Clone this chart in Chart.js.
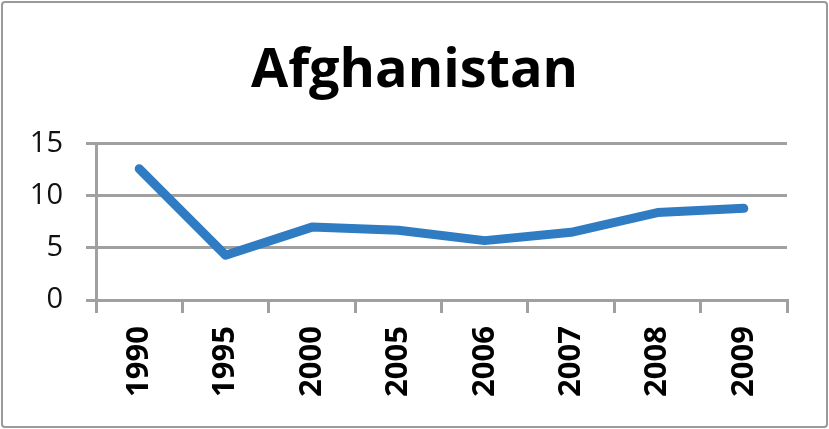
<!DOCTYPE html>
<html>
<head>
<meta charset="utf-8">
<script src="https://cdn.jsdelivr.net/npm/chart.js@4"></script>
<style>
    html, body { margin: 0; padding: 0; background: #fff; }
    #wrap {
        position: relative;
        width: 823px; height: 423px;
        margin: 1px;
        border: 2px solid #9a9a9a;
        border-radius: 4px;
    }
    canvas { position: absolute; left: -3px; top: -3px; }
</style>
</head>
<body>
<div id="wrap"><canvas id="chart" width="829" height="429"></canvas></div>
<script>
const years = ['1990', '1995', '2000', '2005', '2006', '2007', '2008', '2009'];
const values = [12.6, 4.3, 7.0, 6.7, 5.7, 6.5, 8.4, 8.8];
const yTicks = [0, 5, 10, 15];

const gridGray = '#a0a0a0';

new Chart(document.getElementById('chart'), {
    type: 'line',
    data: {
        labels: years,
        datasets: [{
            label: 'Afghanistan',
            data: values,
            borderColor: '#2f7cc3',
            borderWidth: 9,
            borderCapStyle: 'round',
            borderJoinStyle: 'round',
            pointRadius: 0,
            tension: 0,
            fill: false
        }]
    },
    options: {
        responsive: false,
        animation: false,
        layout: {
            padding: { left: 28, right: 28, top: 39, bottom: 21 }
        },
        plugins: {
            legend: { display: false },
            tooltip: { enabled: false },
            title: {
                display: true,
                text: 'Afghanistan',
                color: '#000',
                font: { family: 'Open Sans', size: 54, weight: 'bold' },
                padding: { top: 0, bottom: 40 }
            }
        },
        scales: {
            x: {
                offset: true,
                afterFit: function(axis) { axis.height = 108; },
                grid: {
                    offset: true,
                    drawOnChartArea: false,
                    drawTicks: true,
                    tickLength: 13,
                    color: gridGray,
                    lineWidth: 3
                },
                border: { display: true, color: gridGray, width: 3 },
                ticks: {
                    minRotation: 90,
                    maxRotation: 90,
                    padding: 13,
                    color: '#000',
                    font: { family: 'Open Sans', size: 31, weight: 'bold' }
                }
            },
            y: {
                min: 0,
                max: 15,
                afterFit: function(axis) { axis.width = 68; },
                afterBuildTicks: function(axis) {
                    axis.ticks = yTicks.map(v => ({ value: v }));
                },
                grid: {
                    drawTicks: true,
                    tickLength: 10,
                    color: gridGray,
                    lineWidth: 3
                },
                border: { display: true, color: gridGray, width: 3 },
                ticks: {
                    padding: 23,
                    color: '#111',
                    font: { family: 'Open Sans', size: 29 }
                }
            },
            // empty spacer on the right so the title sits centred on the page
            spacer: {
                type: 'linear',
                position: 'right',
                afterFit: function(axis) { axis.width = 14; },
                grid: { display: false },
                border: { display: false },
                ticks: { display: false }
            }
        }
    }
});
</script>
</body>
</html>
